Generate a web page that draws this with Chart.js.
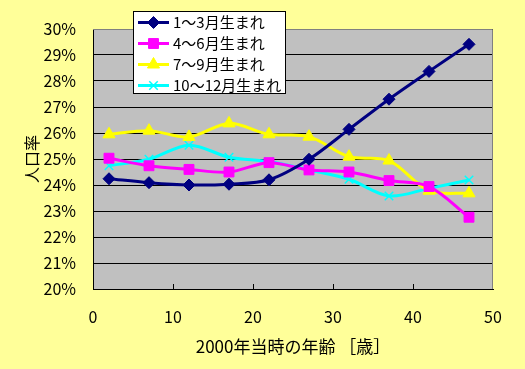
<!DOCTYPE html>
<html><head><meta charset="utf-8">
<script src="https://cdn.jsdelivr.net/npm/chart.js@4/dist/chart.umd.min.js"></script>
<style>html,body{margin:0;padding:0;background:#FFFF99;overflow:hidden}canvas{display:block}</style>
</head><body>
<canvas id="c" width="525" height="369"></canvas>
<script>
// ---- data ----
const ages = [2, 7, 12, 17, 22, 27, 32, 37, 42, 47];
const seriesNames = ['1～3月生まれ', '4～6月生まれ', '7～9月生まれ', '10～12月生まれ'];
const janMar = [24.24, 24.09, 24.00, 24.03, 24.20, 24.99, 26.14, 27.30, 28.37, 29.41];
const aprJun = [25.03, 24.74, 24.60, 24.50, 24.86, 24.58, 24.50, 24.17, 23.94, 22.76];
const julSep = [25.95, 26.09, 25.85, 26.37, 25.95, 25.86, 25.09, 24.94, 23.78, 23.68];
const octDec = [24.74, 24.99, 25.53, 25.07, 24.90, 24.58, 24.22, 23.58, 23.87, 24.19];
const xTicks = [0, 10, 20, 30, 40, 50];
const yTicks = [20, 21, 22, 23, 24, 25, 26, 27, 28, 29, 30];
const xTitle = '2000年当時の年齢 ［歳］';
const yTitle = '人口率';

const FONT = '"Noto Sans CJK JP", "Noto Sans", sans-serif';
const styles = [
  {color: '#000080', pointStyle: 'rectRot', radius: 6, fill: '#000080', bw: 1},
  {color: '#FF00FF', pointStyle: 'rect', radius: 7, fill: '#FF00FF', bw: 1},
  {color: '#FFFF00', pointStyle: 'triangle', radius: 7, fill: '#FFFF00', bw: 1},
  {color: '#00FFFF', pointStyle: 'crossRot', radius: 6, fill: '#00FFFF', bw: 1.5}
];
const values = [janMar, aprJun, julSep, octDec];

const datasets = values.map((vals, i) => ({
  label: seriesNames[i],
  data: ages.map((a, j) => ({x: a, y: vals[j]})),
  borderColor: styles[i].color,
  backgroundColor: styles[i].fill,
  borderWidth: 3,
  tension: 0.33,
  pointStyle: styles[i].pointStyle,
  pointRadius: styles[i].radius,
  pointBackgroundColor: styles[i].fill,
  pointBorderColor: styles[i].color,
  pointBorderWidth: styles[i].bw,
  fill: false
}));

function drawMarker(ctx, st, x, y) {
  Chart.helpers.drawPoint(ctx, {pointStyle: st.pointStyle, radius: st.radius, borderWidth: st.bw, rotation: 0}, x, y);
}

const deco = {
  id: 'deco',
  beforeDraw(chart) {
    const {ctx, chartArea: a} = chart;
    ctx.save();
    ctx.fillStyle = '#FFFF99';
    ctx.fillRect(0, 0, chart.width, chart.height);
    ctx.fillStyle = '#C0C0C0';
    ctx.fillRect(a.left, a.top, a.right - a.left, a.bottom - a.top);
    ctx.restore();
  },
  beforeDatasetsDraw(chart) {
    const {ctx, chartArea: a, scales} = chart;
    ctx.save();
    ctx.strokeStyle = '#808080';
    ctx.lineWidth = 1;
    ctx.beginPath();
    ctx.moveTo(a.left, a.top + 0.5);
    ctx.lineTo(a.right - 0.5, a.top + 0.5);
    ctx.lineTo(a.right - 0.5, a.bottom);
    ctx.stroke();
    ctx.strokeStyle = '#000000';
    ctx.beginPath();
    scales.x.ticks.forEach(t => {
      if (t.value <= scales.x.min || t.value >= scales.x.max) return;
      const px = Math.round(scales.x.getPixelForValue(t.value)) + 0.5;
      ctx.moveTo(px, a.bottom);
      ctx.lineTo(px, a.bottom - 5);
    });
    ctx.stroke();
    ctx.restore();
  },
  afterDraw(chart) {
    const ctx = chart.ctx;
    const bx = 133, by = 11, bw = 152, bh = 82;
    ctx.save();
    ctx.fillStyle = '#FFFFFF';
    ctx.fillRect(bx, by, bw, bh);
    ctx.strokeStyle = '#000000';
    ctx.lineWidth = 1;
    ctx.strokeRect(bx + 0.5, by + 0.5, bw, bh);
    const rowY = [22.5, 43.5, 64.5, 85.5];
    seriesNames.forEach((name, i) => {
      const st = styles[i];
      const y = rowY[i];
      ctx.strokeStyle = st.color;
      ctx.lineWidth = 3;
      ctx.beginPath();
      ctx.moveTo(138, y);
      ctx.lineTo(169, y);
      ctx.stroke();
      ctx.fillStyle = st.fill;
      ctx.strokeStyle = st.color;
      ctx.lineWidth = st.bw;
      drawMarker(ctx, st, 153.5, y);
      ctx.fillStyle = '#000000';
      ctx.font = '15px ' + FONT;
      ctx.textBaseline = 'middle';
      ctx.textAlign = 'left';
      ctx.fillText(name, 173, y);
    });
    ctx.restore();
  }
};

new Chart(document.getElementById('c'), {
  type: 'line',
  data: {datasets},
  plugins: [deco],
  options: {
    responsive: false,
    animation: false,
    devicePixelRatio: 1,
    layout: {padding: {top: 29, right: 32, bottom: 0, left: 0}},
    plugins: {legend: {display: false}, tooltip: {enabled: false}},
    scales: {
      x: {
        type: 'linear', min: 0, max: 50,
        afterBuildTicks: s => { s.ticks = xTicks.map(v => ({value: v})); },
        afterFit: s => { s.height = 80; },
        grid: {display: false, drawTicks: false},
        border: {display: true, color: '#000000', width: 1},
        ticks: {color: '#000000', font: {family: FONT, size: 16}, padding: 18, maxRotation: 0},
        title: {display: true, text: xTitle, color: '#000000', font: {family: FONT, size: 17}, padding: {top: 0, bottom: 12}}
      },
      y: {
        type: 'linear', min: 20, max: 30,
        afterBuildTicks: s => { s.ticks = yTicks.map(v => ({value: v})); },
        afterFit: s => { s.width = 93; },
        grid: {color: '#000000', drawTicks: false, lineWidth: 1},
        border: {display: true, color: '#000000', width: 1},
        ticks: {color: '#000000', font: {family: FONT, size: 16}, padding: 17, callback: v => v + '%'},
        title: {display: true, text: yTitle, color: '#000000', font: {family: FONT, size: 16}, padding: {top: 22, bottom: 0}}
      }
    }
  }
});
</script>
</body></html>
